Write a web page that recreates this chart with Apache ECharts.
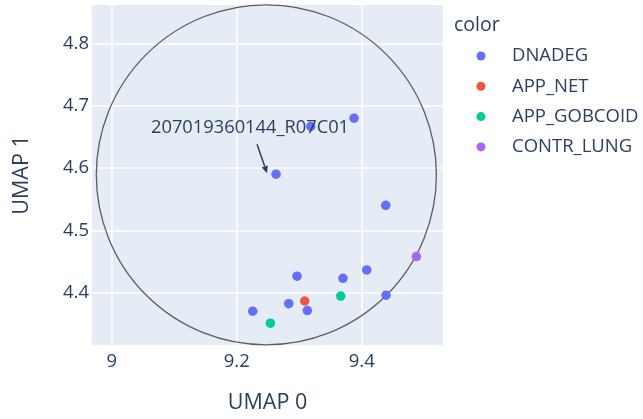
<!DOCTYPE html>
<html><head><meta charset="utf-8">
<script src="https://cdn.jsdelivr.net/npm/echarts@6/dist/echarts.min.js"></script>
<style>html,body{margin:0;padding:0;background:#fff}#c{width:643px;height:419px}</style>
</head><body><div id="c"></div>
<script>
const categories = ['DNADEG', 'APP_NET', 'APP_GOBCOID', 'CONTR_LUNG'];
const colors = ['#636efa', '#EF553B', '#00cc96', '#ab63fa'];
const dnadeg = [
  [9.2629, 4.5904], [9.3184, 4.6672], [9.3877, 4.6805], [9.4384, 4.5402],
  [9.4080, 4.4362], [9.3700, 4.4226], [9.2965, 4.4261], [9.4389, 4.3955],
  [9.2832, 4.3818], [9.3130, 4.3706], [9.2256, 4.3696]
];
const appNet = [[9.3088, 4.3861]];
const appGobcoid = [[9.3664, 4.3940], [9.2538, 4.3504]];
const contrLung = [[9.4874, 4.4576]];
const seriesData = [dnadeg, appNet, appGobcoid, contrLung];
const xTicks = [9, 9.2, 9.4];
const yTicks = [4.4, 4.5, 4.6, 4.7, 4.8];
const xRange = [8.9685, 9.530];
const yRange = [4.3152, 4.8629];
const circleShape = [[9.2474, 4.5893, 0.272]]; // center x, center y, radius (data units)
const annotationPoint = [[9.2629, 4.5904]];
const annotationText = '207019360144_R07C01';

const txt = '#2a3f5f';
const font = 'Open Sans';
const chart = echarts.init(document.getElementById('c'));

const scatterSeries = categories.map((name, i) => ({
  name: name,
  type: 'scatter',
  data: seriesData[i],
  symbolSize: 9.5,
  itemStyle: { color: colors[i], opacity: 1 },
  z: 3
}));

const circleSeries = {
  type: 'custom',
  name: '_circle',
  data: circleShape,
  z: 2,
  silent: true,
  renderItem: function (params, api) {
    const c = api.coord([api.value(0), api.value(1)]);
    const e = api.coord([api.value(0) + api.value(2), api.value(1)]);
    return {
      type: 'circle',
      shape: { cx: c[0], cy: c[1], r: e[0] - c[0] },
      style: { fill: 'none', stroke: '#444', lineWidth: 1.3, opacity: 0.85 }
    };
  }
};

const annotationSeries = {
  type: 'custom',
  name: '_annotation',
  data: annotationPoint,
  z: 5,
  silent: true,
  renderItem: function (params, api) {
    const p = api.coord([api.value(0), api.value(1)]);
    const tip = [p[0] - 9, p[1] - 1];
    const tail = [p[0] - 19, p[1] - 30];
    const dx = tip[0] - tail[0], dy = tip[1] - tail[1];
    const L = Math.sqrt(dx * dx + dy * dy);
    const ux = dx / L, uy = dy / L;
    const nx = -uy, ny = ux;
    const hl = 7, hw = 3.2;
    const base = [tip[0] - hl * ux, tip[1] - hl * uy];
    return {
      type: 'group',
      children: [
        { type: 'line', shape: { x1: tail[0], y1: tail[1], x2: base[0], y2: base[1] },
          style: { stroke: txt, lineWidth: 1.5 } },
        { type: 'polygon', shape: { points: [tip, [base[0] + hw * nx, base[1] + hw * ny], [base[0] - hw * nx, base[1] - hw * ny]] },
          style: { fill: txt } },
        { type: 'text', x: p[0] - 26, y: p[1] - 46,
          style: { text: annotationText, fill: txt, fontSize: 18.3, fontFamily: font, align: 'center', verticalAlign: 'middle' } }
      ]
    };
  }
};

chart.setOption({
  backgroundColor: '#fff',
  animation: false,
  textStyle: { fontFamily: font, color: txt },
  title: {
    text: 'color', left: 454, top: 15, padding: 0,
    textStyle: { fontSize: 19.5, fontWeight: 'normal', color: txt, fontFamily: font }
  },
  legend: {
    data: categories,
    orient: 'vertical',
    left: 476.5, top: 45,
    padding: 0,
    itemWidth: 52, itemHeight: 9, itemGap: 8.3,
    icon: 'circle',
    textStyle: { fontSize: 18.5, color: txt, fontFamily: font, lineHeight: 22 }
  },
  grid: {
    left: 92, right: 200, top: 5, bottom: 72,
    show: true, backgroundColor: '#E5ECF6', borderWidth: 0
  },
  xAxis: {
    type: 'value', min: xRange[0], max: xRange[1],
    name: 'UMAP 0', nameLocation: 'middle', nameGap: 47,
    nameTextStyle: { fontSize: 21.5, color: txt, fontFamily: font },
    axisLine: { show: false },
    axisTick: { show: false, customValues: xTicks },
    axisLabel: { customValues: xTicks, fontSize: 18.5, color: txt, fontFamily: font, margin: 7 },
    splitLine: { show: true, lineStyle: { color: '#fff', width: 1.5 } }
  },
  yAxis: {
    type: 'value', min: yRange[0], max: yRange[1],
    name: 'UMAP 1', nameLocation: 'middle', nameGap: 59,
    nameTextStyle: { fontSize: 21.5, color: txt, fontFamily: font },
    axisLine: { show: false },
    axisTick: { show: false, customValues: yTicks },
    axisLabel: { customValues: yTicks, fontSize: 18.5, color: txt, fontFamily: font, margin: 3 },
    splitLine: { show: true, lineStyle: { color: '#fff', width: 1.5 } }
  },
  series: [circleSeries].concat(scatterSeries, [annotationSeries])
});
</script>
</body></html>
